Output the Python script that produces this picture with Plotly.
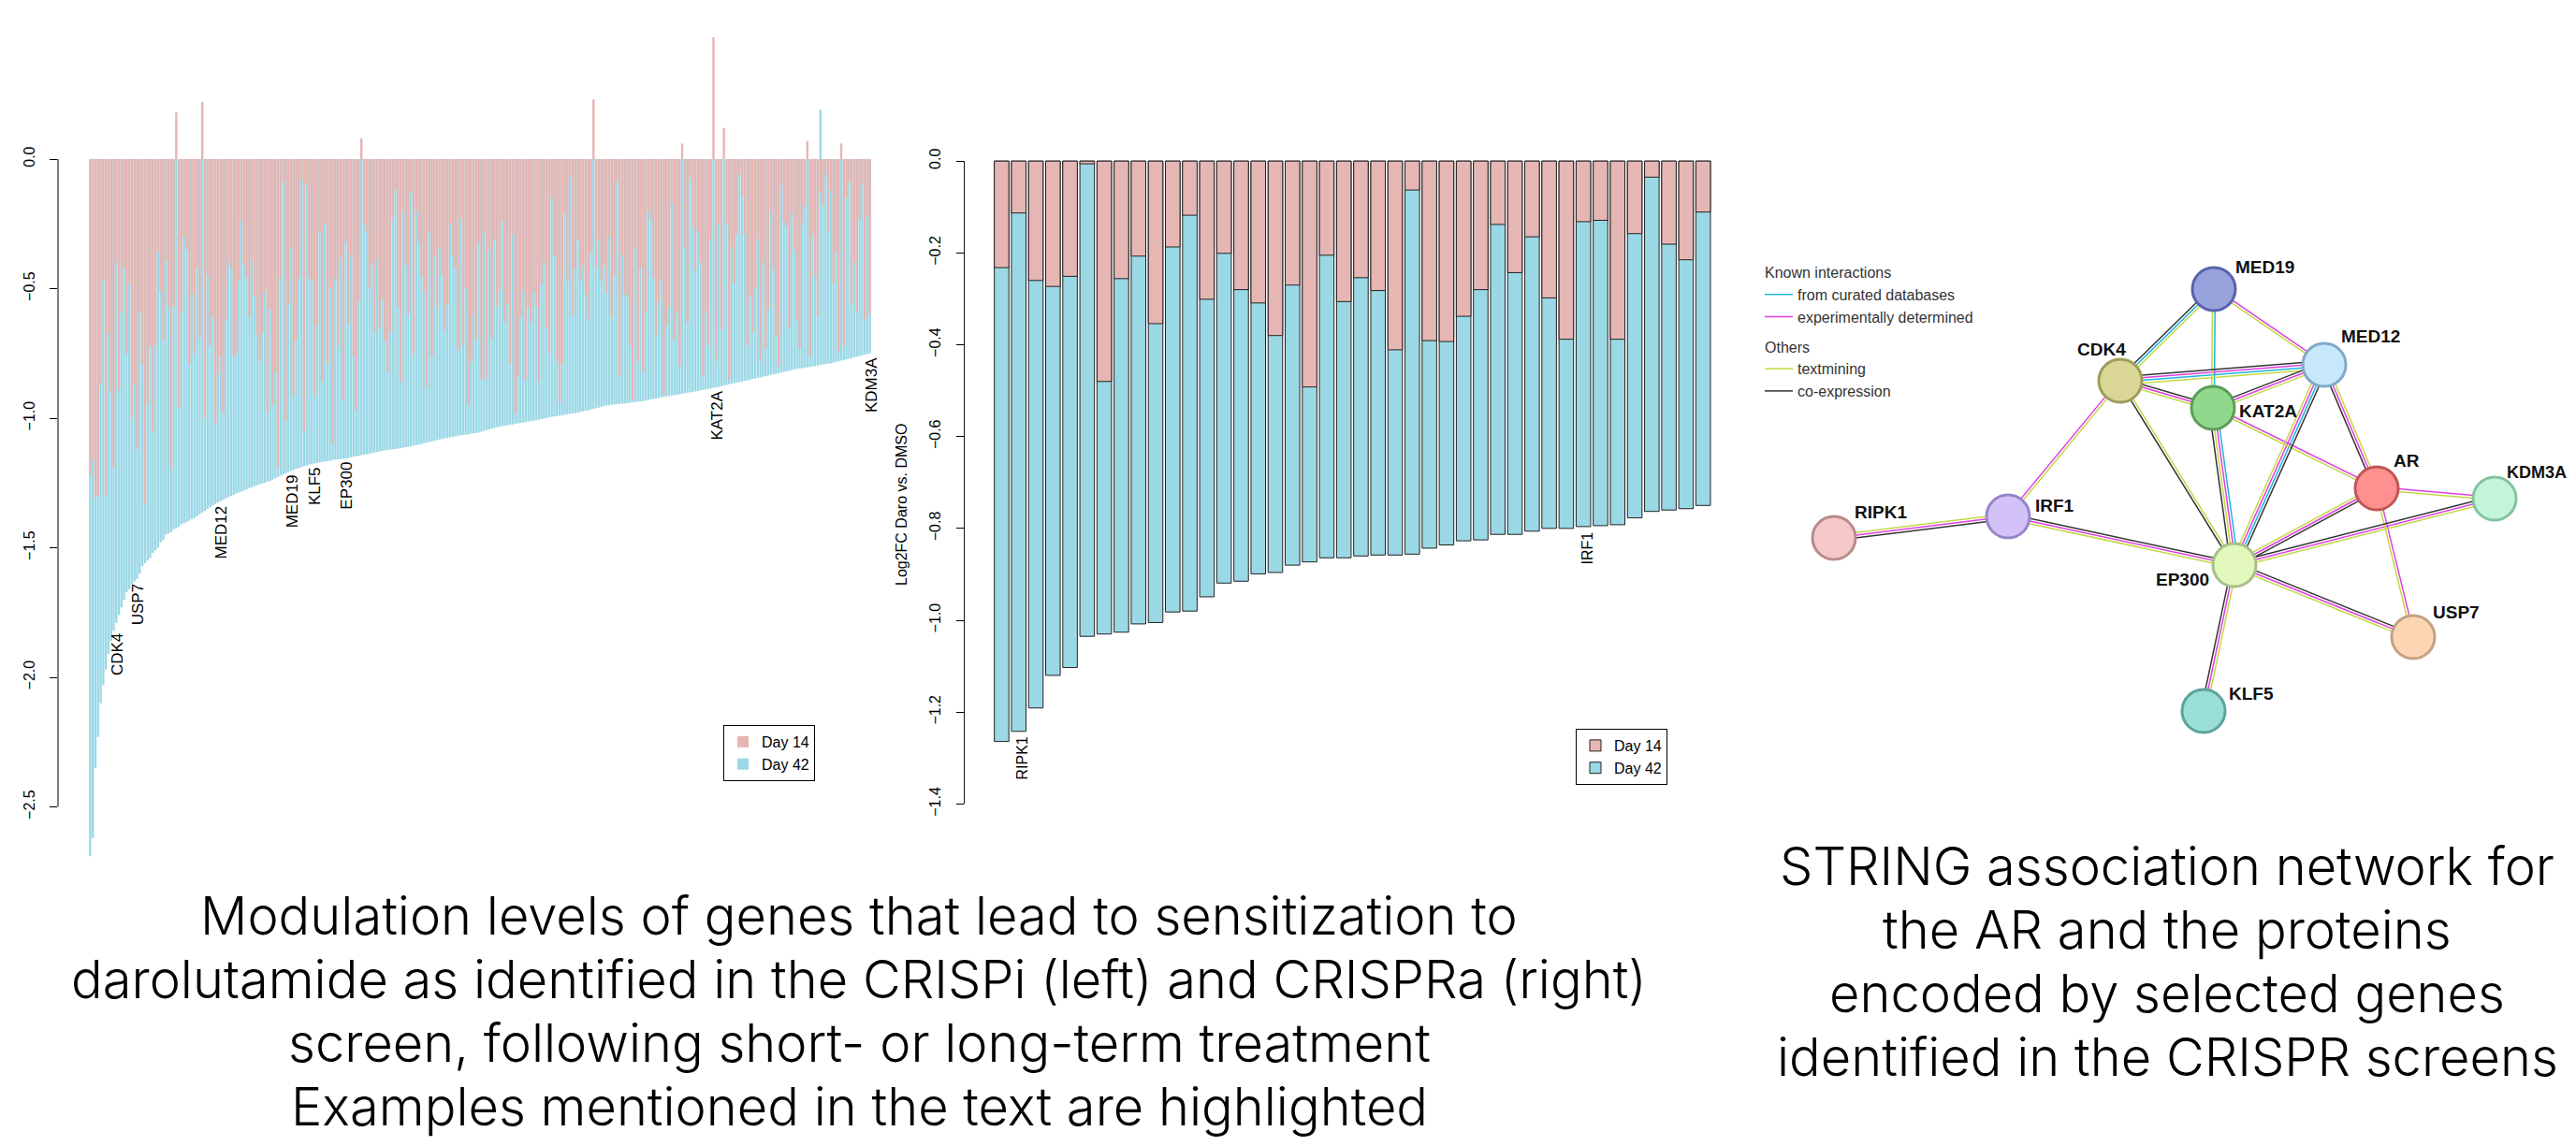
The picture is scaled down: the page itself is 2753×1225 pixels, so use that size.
import plotly.graph_objects as go

# page size and the 8px body margin that the HTML page adds around the figure
PAGE_W, PAGE_H = 2753, 1225
OFF = 8
W, H = PAGE_W - 2 * OFF, PAGE_H - 2 * OFF


def px_x(p):
    return (p - OFF) / W


def px_y(p):
    return 1 - (p - OFF) / H


# ---------------- CRISPRi (left panel) ----------------
crispri_day42 = [
    -2.69, -2.62, -2.35, -2.23, -2.10, -2.03, -1.97, -1.91, -1.86, -1.82,
    -1.79, -1.76, -1.73, -1.70, -1.67, -1.66, -1.64, -1.63, -1.62, -1.60,
    -1.57, -1.56, -1.55, -1.54, -1.52, -1.51, -1.50, -1.48, -1.47, -1.45,
    -1.445, -1.44, -1.43, -1.425, -1.42, -1.41, -1.405, -1.40, -1.395, -1.39,
    -1.385, -1.378, -1.371, -1.364, -1.357, -1.350, -1.343, -1.337, -1.330, -1.325,
    -1.320, -1.315, -1.310, -1.305, -1.300, -1.296, -1.291, -1.287, -1.283, -1.279,
    -1.275, -1.270, -1.266, -1.262, -1.259, -1.255, -1.252, -1.249, -1.245, -1.242,
    -1.237, -1.232, -1.227, -1.222, -1.218, -1.213, -1.208, -1.204, -1.200, -1.196,
    -1.192, -1.189, -1.186, -1.183, -1.180, -1.178, -1.175, -1.173, -1.171, -1.169,
    -1.167, -1.165, -1.164, -1.162, -1.161, -1.159, -1.158, -1.157, -1.155, -1.153,
    -1.151, -1.149, -1.147, -1.145, -1.143, -1.141, -1.139, -1.137, -1.135, -1.133,
    -1.130, -1.128, -1.126, -1.124, -1.123, -1.121, -1.120, -1.119, -1.117, -1.116,
    -1.114, -1.112, -1.110, -1.108, -1.106, -1.104, -1.102, -1.100, -1.097, -1.095,
    -1.092, -1.090, -1.087, -1.085, -1.082, -1.080, -1.078, -1.076, -1.074, -1.072,
    -1.070, -1.068, -1.067, -1.065, -1.064, -1.062, -1.060, -1.059, -1.058, -1.055,
    -1.052, -1.049, -1.046, -1.043, -1.040, -1.038, -1.035, -1.033, -1.031, -1.029,
    -1.027, -1.025, -1.024, -1.022, -1.020, -1.018, -1.017, -1.015, -1.013, -1.012,
    -1.010, -1.008, -1.006, -1.004, -1.002, -0.999, -0.997, -0.995, -0.993, -0.992,
    -0.990, -0.988, -0.987, -0.985, -0.983, -0.982, -0.980, -0.978, -0.976, -0.974,
    -0.971, -0.969, -0.967, -0.964, -0.961, -0.959, -0.956, -0.954, -0.951, -0.950,
    -0.948, -0.947, -0.946, -0.945, -0.944, -0.943, -0.942, -0.940, -0.939, -0.938,
    -0.936, -0.935, -0.934, -0.932, -0.930, -0.928, -0.926, -0.924, -0.922, -0.920,
    -0.918, -0.916, -0.915, -0.913, -0.911, -0.909, -0.908, -0.906, -0.904, -0.902,
    -0.900, -0.899, -0.897, -0.895, -0.893, -0.891, -0.889, -0.887, -0.885, -0.883,
    -0.881, -0.879, -0.877, -0.874, -0.872, -0.869, -0.867, -0.865, -0.863, -0.861,
    -0.859, -0.856, -0.854, -0.852, -0.849, -0.847, -0.845, -0.843, -0.840, -0.838,
    -0.836, -0.833, -0.831, -0.829, -0.826, -0.824, -0.821, -0.819, -0.817, -0.815,
    -0.812, -0.810, -0.809, -0.807, -0.805, -0.804, -0.802, -0.800, -0.799, -0.797,
    -0.795, -0.793, -0.791, -0.789, -0.788, -0.786, -0.783, -0.781, -0.778, -0.776,
    -0.773, -0.771, -0.768, -0.765, -0.763, -0.760, -0.758, -0.755, -0.753, -0.750,
]
crispri_day14 = [
    -1.22, -1.16, -1.31, -1.30, -0.87, -0.47, -1.30, -0.67, -0.90, -1.19,
    -0.40, -0.89, -0.59, -0.42, -0.75, -0.48, -1.00, -0.87, -1.12, -0.59,
    -0.79, -1.33, -0.94, -0.72, -1.05, -0.72, -0.36, -0.51, -0.70, -0.39,
    -0.57, -1.20, -0.57, 0.18, -0.96, -0.59, -0.30, -0.35, -0.79, -0.52,
    -0.75, -0.42, -0.69, 0.22, -1.00, -0.45, -0.72, -0.61,
    -1.02, -0.83, -0.76, -0.98, -0.62, -0.40, -0.42, -0.76, -0.75, -0.47,
    -0.24, -0.41, -0.46, -0.61, -0.39, -0.53, -0.68, -0.78, -0.67, -0.51,
    -0.98, -0.58, -0.95, -0.82, -1.19, -0.46, -0.09, -1.01, -0.56, -0.34,
    -0.91, -0.70, -0.46, -0.08, -1.05, -0.10, -0.46, -0.47, -0.91, -0.64,
    -0.28, -0.86, -0.25, -0.79, -0.50, -1.10, -0.46, -0.72, -0.38, -0.93,
    -0.32, -0.64, -0.37, -0.76, -0.97, -0.55, 0.08, -0.25, -0.28, -0.50,
    -0.41, -0.67, -0.39, -0.65, -0.54, -0.70, -0.82, -0.67, -0.23, -0.12,
    -0.57, -0.86, -0.20, -0.41, -0.60, -0.13, -0.75, -0.20, -0.32, -0.45,
    -0.51, -0.88, -0.28, -0.76, -0.37, -0.57, -0.34, -0.45, -0.66, -0.56,
    -0.25, -0.37, -0.42, -0.74, -0.23, -0.72, -0.50, -0.95, -0.78, -0.60,
    -0.70, -0.32, -0.85, -0.28, -0.85, -0.35, -0.69, -0.31, -0.57, -0.51,
    -0.24, -0.63, -0.56, -0.79, -0.29, -0.98, -0.84, -0.61, -0.51, -0.85,
    -0.57, -0.63, -0.51, -0.57, -0.86, -0.48, -0.40, -0.65, -0.75, -0.15,
    -0.37, -0.78, -0.94, -0.79, -0.21, -0.47, -0.07, -0.60, -0.42, -0.31,
    -0.47, -0.41, -0.52, -0.62, -0.36, 0.23, -0.42, -0.31, -0.47, -0.41,
    -0.52,
    -0.30, -0.61, -0.45, -0.09, -0.84, -0.37, -0.52, -0.53, -0.72, -0.93,
    -0.34, -0.78, -0.42, -0.82, -0.59, -0.20, -0.23, -0.46, -0.68, -0.55,
    -0.47, -0.91, -0.64, -0.57, -0.17, -0.70, -0.59, -0.80, 0.06, -0.34,
    -0.63, -0.07, -0.26, -0.43, -0.28, -0.40, -0.84, -0.59, -0.72, -0.31,
    0.47, -0.78, -0.25, -0.66, 0.12, -0.25, -0.85, -0.34, -0.48, -0.29,
    -0.06, -0.14, -0.29, -0.72, -0.53, -0.67, -0.50, -0.31, -0.78, -0.40,
    -0.73, -0.58, -0.20, -0.43, -0.68, -0.80, -0.10, -0.24, -0.26, -0.65,
    -0.21, -0.35, -0.62, -0.73, -0.25, -0.18, 0.07, -0.76, -0.29, -0.45,
    -0.61, -0.13, -0.18, -0.06, -0.28, -0.12, -0.48, -0.36, -0.74, 0.06,
    -0.72, -0.15, -0.09, -0.56, -0.40, -0.59, -0.23, -0.10, -0.62, -0.22,
    -0.60,
]
# Day 42 bar that also rises above zero (index -> value)
crispri_day42_above_idx = [280]
crispri_day42_above_val = [0.19]
crispri_label_names = ["CDK4", "USP7", "MED12", "MED19", "KLF5", "EP300", "KAT2A", "KDM3A"]
crispri_label_idx = [9, 17, 49, 76, 85, 97, 239, 298]
left_yticks = [0.0, -0.5, -1.0, -1.5, -2.0, -2.5]

# ---------------- CRISPRa (middle panel) ----------------
crispra_day14 = [
    -0.232, -0.113, -0.260, -0.273, -0.251, -0.006, -0.480, -0.256, -0.207, -0.354,
    -0.187, -0.118, -0.301, -0.201, -0.280, -0.309, -0.380, -0.270, -0.492, -0.205,
    -0.306, -0.254, -0.282, -0.411, -0.063, -0.391, -0.393, -0.338, -0.280, -0.138,
    -0.243, -0.165, -0.298, -0.388, -0.132, -0.129, -0.388, -0.158, -0.035, -0.181,
    -0.215, -0.111,
]
crispra_day42 = [
    -1.264, -1.242, -1.191, -1.120, -1.103, -1.035, -1.030, -1.026, -1.008, -1.005,
    -0.982, -0.980, -0.949, -0.919, -0.915, -0.899, -0.896, -0.880, -0.873, -0.864,
    -0.864, -0.860, -0.858, -0.858, -0.856, -0.843, -0.836, -0.827, -0.825, -0.813,
    -0.813, -0.806, -0.800, -0.800, -0.796, -0.794, -0.792, -0.777, -0.763, -0.760,
    -0.757, -0.750,
]
crispra_label_names = ["RIPK1", "IRF1"]
crispra_label_idx = [1, 34]
right_yticks = [0.0, -0.2, -0.4, -0.6, -0.8, -1.0, -1.2, -1.4]

# ---------------- STRING network (page-pixel layout) ----------------
node_names = ["MED19", "MED12", "CDK4", "KAT2A", "AR", "KDM3A", "RIPK1", "IRF1", "EP300", "USP7", "KLF5"]
node_x = [2366, 2484, 2266, 2365, 2540, 2666, 1960, 2146, 2388, 2579, 2355]
node_y = [309, 390, 407, 436, 522, 533, 575, 552, 604, 681, 760]
node_fill = ["#98A2DC", "#C6E8FA", "#DAD796", "#92D88C", "#FF9090", "#C2F5DA",
             "#F5C8C8", "#D2C2F8", "#E2F8BC", "#FCD6B2", "#9ADFD6"]
node_edge = ["#5863AB", "#80A9C8", "#A09D5A", "#5B9E56", "#C05757", "#85C2A4",
             "#B98A8A", "#9686C9", "#A7C088", "#C2A283", "#5BA29B"]
label_x = [2387, 2500, 2246, 2391, 2556, 2677, 1980, 2173, 2332, 2598, 2380]
label_y = [286, 360, 374, 440, 493, 505, 547, 540, 619, 654, 741]
label_anchor = ["left", "left", "center", "left", "left", "left", "left", "left", "center", "left", "left"]

edge_types = ["curated", "experimental", "textmining", "coexpression"]
edge_type_label = ["from curated databases", "experimentally determined", "textmining", "co-expression"]
edge_type_color = ["#22B4DF", "#E13FE2", "#C3D845", "#333333"]
edge_type_group = ["Known interactions", "Known interactions", "Others", "Others"]
edges = [
    ("RIPK1", "IRF1", ["textmining", "experimental", "coexpression"]),
    ("IRF1", "CDK4", ["experimental", "textmining"]),
    ("IRF1", "EP300", ["coexpression", "experimental", "textmining"]),
    ("CDK4", "MED19", ["coexpression", "curated", "textmining"]),
    ("CDK4", "MED12", ["coexpression", "experimental", "curated", "textmining"]),
    ("CDK4", "KAT2A", ["coexpression", "experimental", "textmining"]),
    ("CDK4", "EP300", ["textmining", "coexpression"]),
    ("MED19", "KAT2A", ["curated", "textmining"]),
    ("MED19", "MED12", ["experimental", "textmining"]),
    ("KAT2A", "MED12", ["coexpression", "experimental", "textmining"]),
    ("KAT2A", "EP300", ["curated", "experimental", "textmining", "coexpression"]),
    ("KAT2A", "AR", ["experimental", "textmining"]),
    ("MED12", "EP300", ["coexpression", "curated", "experimental", "textmining"]),
    ("MED12", "AR", ["textmining", "experimental", "coexpression"]),
    ("AR", "EP300", ["coexpression", "experimental", "textmining"]),
    ("AR", "KDM3A", ["experimental", "textmining"]),
    ("AR", "USP7", ["experimental", "textmining"]),
    ("EP300", "KDM3A", ["coexpression", "experimental", "textmining"]),
    ("EP300", "USP7", ["coexpression", "experimental", "textmining"]),
    ("EP300", "KLF5", ["textmining", "experimental", "coexpression"]),
]

left_caption_lines = [
    "Modulation levels of genes that lead to sensitization to",
    "darolutamide as identified in the CRISPi (left) and CRISPRa (right)",
    "screen, following short- or long-term treatment",
    "Examples mentioned in the text are highlighted",
]
left_caption_y = [979, 1047, 1115, 1183]
right_caption_lines = [
    "STRING association network for",
    "the AR and the proteins",
    "encoded by selected genes",
    "identified in the CRISPR screens",
]
right_caption_y = [926, 994, 1062, 1130]

PINK = "#E5B6B3"
BLUE = "#9BD8E6"
AXFONT = dict(family="Liberation Sans, Arial, sans-serif", size=16, color="black")
CAPFONT = dict(family="Inter, Lato, sans-serif", size=56, weight=300, color="black")

fig = go.Figure()

# ---- left panel bars
n_left = len(crispri_day42)
fig.add_trace(go.Bar(x=list(range(n_left)), y=crispri_day42, width=0.86,
                     marker=dict(color=BLUE, line=dict(width=0)),
                     name="Day 42", legend="legend", legendrank=2,
                     xaxis="x", yaxis="y"))
fig.add_trace(go.Bar(x=crispri_day42_above_idx, y=crispri_day42_above_val, width=0.86,
                     marker=dict(color=BLUE, line=dict(width=0)),
                     showlegend=False, xaxis="x", yaxis="y"))
fig.add_trace(go.Bar(x=list(range(n_left)), y=crispri_day14, width=0.86,
                     marker=dict(color=PINK, line=dict(width=0)),
                     name="Day 14", legend="legend", legendrank=1,
                     xaxis="x", yaxis="y"))

# ---- middle panel bars
n_right = len(crispra_day42)
fig.add_trace(go.Bar(x=list(range(n_right)), y=crispra_day42, width=0.85,
                     marker=dict(color=BLUE, line=dict(width=1, color="#222222")),
                     name="Day 42", legend="legend2", legendrank=2,
                     xaxis="x2", yaxis="y2"))
fig.add_trace(go.Bar(x=list(range(n_right)), y=crispra_day14, width=0.85,
                     marker=dict(color=PINK, line=dict(width=1, color="#222222")),
                     name="Day 14", legend="legend2", legendrank=1,
                     xaxis="x2", yaxis="y2"))

# ---- network edges
pos = {n: (x, y) for n, x, y in zip(node_names, node_x, node_y)}
spacing = 2.8
seg = {t: ([], []) for t in edge_types}
for a, b, types in edges:
    (x0, y0), (x1, y1) = pos[a], pos[b]
    dx, dy = x1 - x0, y1 - y0
    L = (dx * dx + dy * dy) ** 0.5
    px, py = -dy / L, dx / L
    k = len(types)
    for j, t in enumerate(types):
        off = (j - (k - 1) / 2) * spacing
        xs, ys = seg[t]
        xs += [x0 + px * off, x1 + px * off, None]
        ys += [y0 + py * off, y1 + py * off, None]
for t, lab, col, grp in zip(edge_types, edge_type_label, edge_type_color, edge_type_group):
    xs, ys = seg[t]
    fig.add_trace(go.Scatter(x=xs, y=ys, mode="lines", line=dict(color=col, width=1.5),
                             name=lab, legend="legend3", legendgroup=grp,
                             legendgrouptitle=dict(text=grp),
                             hoverinfo="skip", xaxis="x3", yaxis="y3"))
fig.add_trace(go.Scatter(x=node_x, y=node_y, mode="markers",
                         marker=dict(size=46, color=node_fill,
                                     line=dict(color=node_edge, width=3)),
                         text=node_names, showlegend=False, xaxis="x3", yaxis="y3"))

annotations = []
for name, i in zip(crispri_label_names, crispri_label_idx):
    annotations.append(dict(x=i, y=crispri_day42[i], xref="x", yref="y", text=name,
                            textangle=-90, showarrow=False, xanchor="center", yanchor="top",
                            xshift=4, yshift=-1, font=dict(AXFONT, size=17)))
for name, i in zip(crispra_label_names, crispra_label_idx):
    annotations.append(dict(x=i, y=crispra_day42[i], xref="x2", yref="y2", text=name,
                            textangle=-90, showarrow=False, xanchor="center", yanchor="top",
                            xshift=4, yshift=-4, font=dict(AXFONT, size=16)))
annotations.append(dict(x=px_x(964), y=px_y(540), xref="paper", yref="paper",
                        text="Log2FC Daro vs. DMSO", textangle=-90, showarrow=False,
                        xanchor="center", yanchor="middle", font=dict(AXFONT, size=16)))
for name, lx, ly, anc in zip(node_names, label_x, label_y, label_anchor):
    annotations.append(dict(x=lx, y=ly, xref="x3", yref="y3", text="<b>" + name + "</b>",
                            showarrow=False, xanchor=anc, yanchor="middle",
                            font=dict(family="Liberation Sans, Arial, sans-serif",
                                      size=18 if name == "KDM3A" else 19,
                                      color="#111111")))
for line, cy in zip(left_caption_lines, left_caption_y):
    annotations.append(dict(x=px_x(918), y=px_y(cy), xref="paper", yref="paper",
                            text=line, showarrow=False, xanchor="center", yanchor="middle",
                            font=CAPFONT))
for line, cy in zip(right_caption_lines, right_caption_y):
    annotations.append(dict(x=px_x(2316), y=px_y(cy), xref="paper", yref="paper",
                            text=line, showarrow=False, xanchor="center", yanchor="middle",
                            font=CAPFONT))

shapes = [
    dict(type="line", xref="x domain", yref="y", x0=0, x1=0, y0=-2.5, y1=0,
         line=dict(color="black", width=1)),
    dict(type="line", xref="x2 domain", yref="y2", x0=0, x1=0, y0=-1.4, y1=0,
         line=dict(color="black", width=1)),
]

yaxis_common = dict(showgrid=False, zeroline=False, showline=False, ticks="outside",
                    ticklen=8, tickwidth=1, tickcolor="black", tickangle=-90,
                    tickformat=".1f", tickfont=AXFONT, ticklabelstandoff=10)

legend_common = dict(xanchor="left", yanchor="top", bordercolor="black", borderwidth=1,
                     bgcolor="white", font=dict(AXFONT, size=16), tracegroupgap=0,
                     itemwidth=30)

fig.update_layout(
    width=W, height=H, margin=dict(l=0, r=0, t=0, b=0),
    paper_bgcolor="white", plot_bgcolor="rgba(0,0,0,0)",
    barmode="overlay",
    showlegend=True,
    xaxis=dict(domain=[px_x(62), px_x(935)], range=[-12.34, 300.9], visible=False,
               anchor="y"),
    yaxis=dict(domain=[px_y(930), px_y(30)], range=[-2.7437, 0.5054], anchor="x",
               tickvals=left_yticks, **yaxis_common),
    xaxis2=dict(domain=[px_x(1030.6), px_x(1850)], range=[-2.178, 42.63], visible=False,
                anchor="y2"),
    yaxis2=dict(domain=[px_y(880), px_y(150)], range=[-1.4421, 0.0452], anchor="x2",
                tickvals=right_yticks, **yaxis_common),
    xaxis3=dict(domain=[px_x(1850), 1.0], range=[1850, PAGE_W - OFF], visible=False,
                anchor="y3"),
    yaxis3=dict(domain=[px_y(830), px_y(230)], range=[830, 230], visible=False,
                anchor="x3"),
    legend=dict(x=px_x(773), y=px_y(775), **legend_common),
    legend2=dict(x=px_x(1684), y=px_y(779), **legend_common),
    legend3=dict(x=px_x(1881), y=px_y(274), xanchor="left", yanchor="top",
                 bgcolor="rgba(0,0,0,0)", borderwidth=0, tracegroupgap=8,
                 font=dict(family="Liberation Sans Narrow, Liberation Sans, Arial", size=16,
                           color="#333333"),
                 grouptitlefont=dict(family="Liberation Sans Narrow, Liberation Sans, Arial",
                                     size=16, color="#333333")),
    annotations=annotations,
    shapes=shapes,
)

fig.write_html("out.html")
